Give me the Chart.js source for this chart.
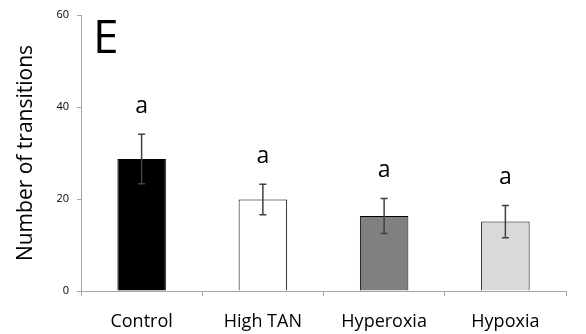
<!DOCTYPE html>
<html>
<head>
<meta charset="utf-8">
<script src="https://cdn.jsdelivr.net/npm/chart.js@4/dist/chart.umd.min.js"></script>
<style>
  html, body { margin: 0; padding: 0; background: #fff; }
  #wrap { width: 586px; height: 334px; }
</style>
</head>
<body>
<div id="wrap"><canvas id="transChart"></canvas></div>
<script>
// group names, means and error (+/-) for the number of transitions
const groups = ['Control', 'High TAN', 'Hyperoxia', 'Hypoxia'];
const means = [28.7, 19.9, 16.3, 15.1];
const errors = [5.4, 3.3, 3.8, 3.5];
const letters = ['a', 'a', 'a', 'a'];
const barColors = ['#000000', '#ffffff', '#808080', '#d9d9d9'];
const yTicks = [0, 20, 40, 60];

const FONT = "'Open Sans', 'DejaVu Sans', sans-serif";

// error bars + significance letters, drawn from the scales
const errorBars = {
    id: 'errorBars',
    afterDatasetsDraw(chart) {
        const ctx = chart.ctx;
        const y = chart.scales.y;
        const meta = chart.getDatasetMeta(0);
        ctx.save();
        meta.data.forEach((bar, i) => {
            const x = bar.x;
            const top = y.getPixelForValue(means[i] + errors[i]);
            const bot = y.getPixelForValue(means[i] - errors[i]);
            ctx.strokeStyle = '#404040';
            ctx.lineWidth = 1.5;
            ctx.beginPath();
            ctx.moveTo(x, top); ctx.lineTo(x, bot);
            ctx.moveTo(x - 3.5, top); ctx.lineTo(x + 3.5, top);
            ctx.moveTo(x - 3.5, bot); ctx.lineTo(x + 3.5, bot);
            ctx.stroke();
            // letter above the error bar
            ctx.fillStyle = '#000';
            ctx.font = '23px ' + FONT;
            ctx.textAlign = 'center';
            ctx.textBaseline = 'middle';
            ctx.fillText(letters[i], x, top - 28);
        });
        // panel letter
        ctx.font = '46px ' + FONT;
        ctx.textAlign = 'left';
        ctx.textBaseline = 'alphabetic';
        ctx.fillText('E', 93, 53);
        ctx.restore();
    }
};

const ctx = document.getElementById('transChart').getContext('2d');
new Chart(ctx, {
    type: 'bar',
    data: {
        labels: groups,
        datasets: [{
            data: means,
            backgroundColor: barColors,
            borderColor: '#000',
            borderWidth: 1,
            borderSkipped: 'bottom',
            categoryPercentage: 1.0,
            barPercentage: 0.4
        }]
    },
    options: {
        responsive: true,
        maintainAspectRatio: false,
        animation: false,
        layout: { padding: { top: 15, right: 20, left: 0, bottom: 0 } },
        plugins: { legend: { display: false }, tooltip: { enabled: false } },
        scales: {
            x: {
                grid: { offset: true, drawOnChartArea: false, color: '#a6a6a6', tickLength: 5 },
                border: { color: '#a6a6a6', width: 1 },
                ticks: { color: '#000', font: { family: FONT, size: 18 }, padding: 15 },
                afterFit(s) { s.height = 43; }
            },
            y: {
                min: 0, max: 60,
                afterBuildTicks(s) { s.ticks = yTicks.map(v => ({ value: v })); },
                grid: { drawOnChartArea: false, color: '#a6a6a6', tickLength: 4 },
                border: { color: '#a6a6a6', width: 1 },
                ticks: { color: '#000', font: { family: FONT, size: 11 }, padding: 8 },
                title: {
                    display: true,
                    text: 'Number of transitions',
                    color: '#000',
                    font: { family: FONT, size: 21 },
                    padding: { top: 13, bottom: 0 }
                },
                afterFit(s) { s.width = 81; }
            }
        }
    },
    plugins: [errorBars]
});
</script>
</body>
</html>
